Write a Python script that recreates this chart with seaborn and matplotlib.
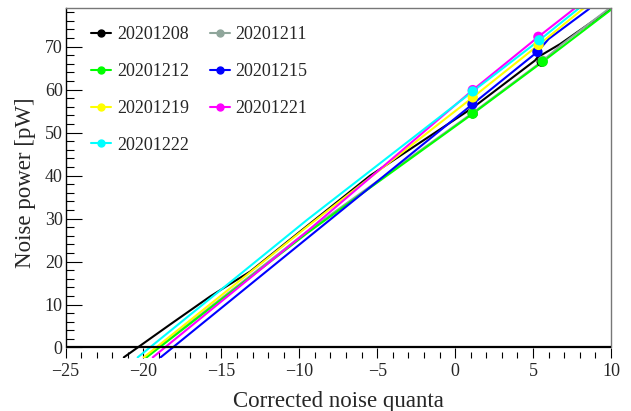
import numpy as np
import pandas as pd
import seaborn as sns
import matplotlib.pyplot as plt
from matplotlib.lines import Line2D
from matplotlib.ticker import MultipleLocator, FixedLocator

# Runs (legend order = draw order)
runs = ["20201208", "20201211", "20201212", "20201215", "20201219", "20201221", "20201222"]
colors = ["#000000", "#8fa69b", "#00ff00", "#0000ff", "#ffff00", "#ff00ff", "#00ffff"]

# Noise curves: x = corrected noise quanta, y = noise power [pW]
x_1208 = [-21.26, -19.98, -18.27, -15.71, -13.14, -10.15, -5.45, 1.17, 5.13, 5.28, 6.73, 9.9]
y_1208 = [-2.3, 1.0, 5.4, 11.9, 17.7, 26.4, 40.0, 55.9, 66.8, 67.5, 70.6, 78.6]
x_1211 = [-19.85, -9.6, 1.13, 5.62, 6.8, 9.85]
y_1211 = [-2.3, 26.7, 54.6, 66.7, 70.4, 78.8]
x_1212 = [-19.8, -9.5, 1.13, 5.62, 10.0]
y_1212 = [-2.3, 26.6, 54.4, 66.5, 78.6]
x_1215 = [-18.9, -9.5, 1.11, 5.28, 6.0, 8.6]
y_1215 = [-2.3, 25.4, 56.6, 68.8, 71.8, 78.8]
x_1219 = [-19.98, -9.5, 1.13, 5.35, 8.2]
y_1219 = [-2.3, 28.1, 58.2, 70.4, 78.8]
x_1221 = [-19.4, -9.5, 1.13, 5.34, 7.63]
y_1221 = [-2.3, 27.0, 59.9, 72.3, 78.8]
x_1222 = [-20.37, -9.5, 1.13, 5.4, 7.9]
y_1222 = [-2.3, 29.7, 59.6, 71.5, 78.8]

# Measured points (markers); the 20201208 ones sit under the green ones
mx_1208 = [1.13, 5.55]
my_1208 = [54.5, 66.5]
mx_1211 = [1.13, 5.62]
my_1211 = [54.6, 66.7]
mx_1212 = [1.13, 5.62]
my_1212 = [54.4, 66.5]
mx_1215 = [1.11, 5.28]
my_1215 = [56.6, 68.8]
mx_1219 = [1.13, 5.35]
my_1219 = [58.2, 70.4]
mx_1221 = [1.13, 5.34]
my_1221 = [59.9, 72.3]
mx_1222 = [1.13, 5.4]
my_1222 = [59.6, 71.5]

curves = [(x_1208, y_1208), (x_1211, y_1211), (x_1212, y_1212), (x_1215, y_1215),
          (x_1219, y_1219), (x_1221, y_1221), (x_1222, y_1222)]
points = [(mx_1208, my_1208), (mx_1211, my_1211), (mx_1212, my_1212), (mx_1215, my_1215),
          (mx_1219, my_1219), (mx_1221, my_1221), (mx_1222, my_1222)]

sns.set_theme(style="white")
plt.rcParams["font.family"] = ["Liberation Serif", "DejaVu Serif"]

fig = plt.figure(figsize=(6.31, 4.11), dpi=100)
ax = fig.add_axes([65.5 / 631, 1 - 357.5 / 411, 545.5 / 631, 349.5 / 411])

for run, col, (cx, cy), (px, py) in zip(runs, colors, curves, points):
    d = pd.DataFrame({"x": cx, "y": cy})
    sns.lineplot(data=d, x="x", y="y", color=col, lw=1.5, sort=False,
                 estimator=None, ax=ax, legend=False)
    p = pd.DataFrame({"x": px, "y": py})
    sns.scatterplot(data=p, x="x", y="y", color=col, s=55, edgecolor="none",
                    ax=ax, legend=False, zorder=3)

ax.axhline(0, color="black", lw=1.6, zorder=4)

ax.set_xlim(-25, 10)
ax.set_ylim(-2.33, 79.0)

ax.xaxis.set_major_locator(MultipleLocator(5))
ax.xaxis.set_minor_locator(MultipleLocator(1))
ax.yaxis.set_major_locator(FixedLocator([0, 10, 20, 30, 40, 50, 60, 70]))
ax.yaxis.set_minor_locator(FixedLocator(list(range(0, 79, 2))))

ax.tick_params(axis="x", which="major", direction="in", length=7.2, width=0.8,
               labelsize=13, pad=4, bottom=True, top=False, color="black")
ax.tick_params(axis="x", which="minor", direction="in", length=4.5, width=0.8,
               bottom=True, top=False, color="black")
ax.tick_params(axis="y", which="major", direction="in", length=11.5, width=0.8,
               labelsize=13, pad=2, left=True, right=False, color="black")
ax.tick_params(axis="y", which="minor", direction="in", length=5.8, width=0.8,
               left=True, right=False, color="black")

ax.spines["bottom"].set_visible(False)
ax.spines["left"].set_color("black")
ax.spines["left"].set_linewidth(1.0)
ax.spines["left"].set_bounds(0, 79.0)
ax.spines["top"].set_color("#777777")
ax.spines["top"].set_linewidth(1.0)
ax.spines["right"].set_color("#777777")
ax.spines["right"].set_linewidth(1.0)
ax.spines["right"].set_bounds(0, 79.0)

ax.set_xlabel("Corrected noise quanta", fontsize=16.5, labelpad=8)
ax.set_ylabel("Noise power [pW]", fontsize=16.5, labelpad=6)

# legend filled row by row like the reference
handles = [Line2D([], [], color=c, lw=1.5, marker="o", markersize=5) for c in colors]
order = [0, 2, 4, 6, 1, 3, 5]
ax.legend([handles[i] for i in order], [runs[i] for i in order], ncol=2,
          loc="upper left", bbox_to_anchor=(0.046, 0.948),
          frameon=False, fontsize=13, handlelength=1.15, handletextpad=0.3,
          columnspacing=1.15, labelspacing=1.1, borderpad=0, borderaxespad=0)

fig.savefig("out.png", dpi=100)
